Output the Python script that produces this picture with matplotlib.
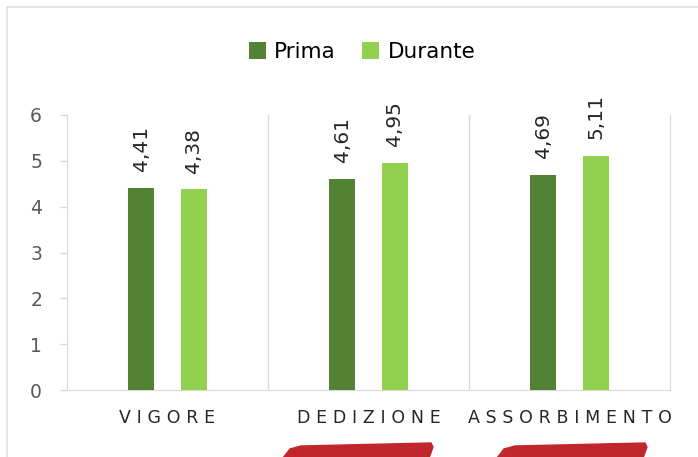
import matplotlib.pyplot as plt
import numpy as np
from matplotlib.lines import Line2D
from matplotlib.patches import Polygon

categories = ['VIGORE', 'DEDIZIONE', 'ASSORBIMENTO']
prima = [4.41, 4.61, 4.69]
durante = [4.38, 4.95, 5.11]
prima_labels = ['4,41', '4,61', '4,69']
durante_labels = ['4,38', '4,95', '5,11']

W, H = 698, 457
fig = plt.figure(figsize=(W / 100, H / 100), dpi=100)
ax = fig.add_axes([67 / W, 1 - 390 / H, (670 - 67) / W, (390 - 115) / H])

x = np.arange(len(categories))
w = 0.13
b1 = ax.bar(x - 0.13, prima, w, color='#548235', label='Prima', zorder=3)
b2 = ax.bar(x + 0.13, durante, w, color='#92d050', label='Durante', zorder=3)

for bars, labs in [(b1, prima_labels), (b2, durante_labels)]:
    for rect, lab in zip(bars, labs):
        ax.annotate(lab, (rect.get_x() + rect.get_width() / 2, rect.get_height()),
                    xytext=(0, 12), textcoords='offset points', rotation=90,
                    ha='center', va='bottom', fontsize=14.5, color='#262626')

ax.set_xlim(-0.5, 2.5)
ax.set_ylim(0, 6)
ax.set_yticks(range(7))
ax.tick_params(axis='y', length=5, width=1, color='#d9d9d9', labelsize=13.5,
               labelcolor='#595959', pad=13)
ax.set_xticks(x)
ax.set_xticklabels(['\u2004'.join(c) for c in categories], fontsize=12.5,
                   color='#262626')
ax.tick_params(axis='x', length=0, pad=14)

for xv in [0.5, 1.5]:
    ax.axvline(xv, color='#d9d9d9', lw=1, zorder=1)
for s in ['left', 'bottom', 'right']:
    ax.spines[s].set_color('#d9d9d9')
ax.spines['top'].set_visible(False)

fig.legend(loc='center', bbox_to_anchor=(362 / W, 1 - 52 / H), ncol=2,
           frameon=False, fontsize=15.5, handlelength=0.8, handleheight=0.8,
           handletextpad=0.4, columnspacing=1.2)

# outer frame
fig.add_artist(Line2D([7 / W, 7 / W], [0, 1 - 7 / H], color='#e0e0e0', lw=1.2,
                      transform=fig.transFigure))
fig.add_artist(Line2D([7 / W, 1.01], [1 - 7 / H, 1 - 7 / H], color='#e0e0e0', lw=1.2,
                      transform=fig.transFigure))

# red hand-drawn underlines
for x0 in [283, 497]:
    pts = [(x0, 458), (x0 + 7, 449), (x0 + 18, 446), (x0 + 148, 443),
           (x0 + 150, 447), (x0 + 146, 458)]
    fig.add_artist(Polygon([(px / W, 1 - py / H) for px, py in pts],
                           closed=True, color='#c0272d',
                           transform=fig.transFigure))

fig.savefig('out.png', dpi=100)
